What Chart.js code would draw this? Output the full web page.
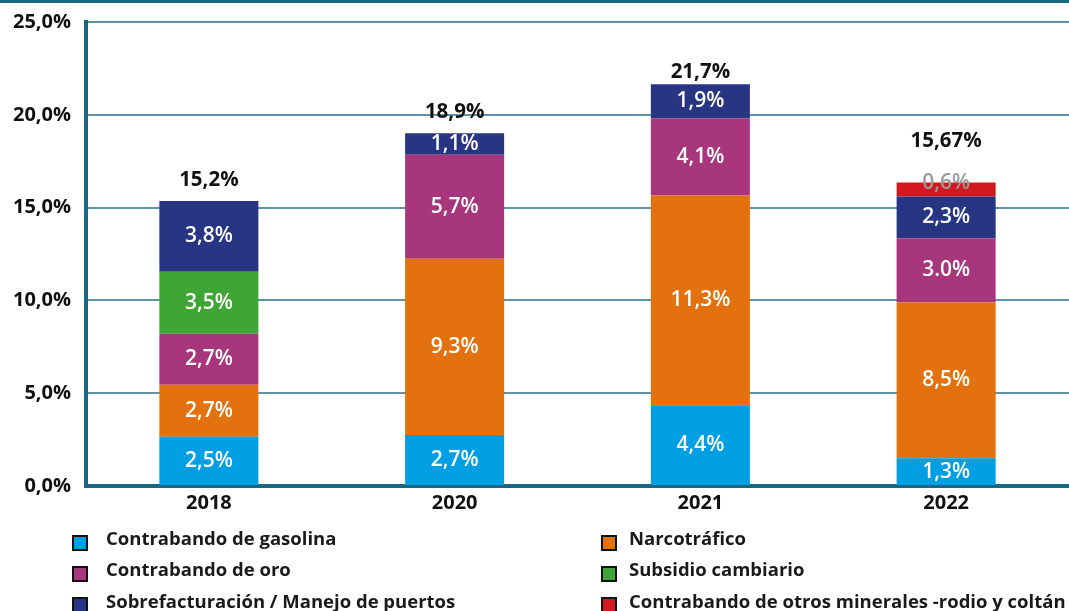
<!DOCTYPE html>
<html>
<head>
<meta charset="utf-8">
<script src="https://cdn.jsdelivr.net/npm/chart.js@4/dist/chart.umd.min.js"></script>
<style>
  html, body { margin: 0; padding: 0; background: #ffffff; }
  #wrap { position: relative; width: 1069px; height: 611px; overflow: hidden; background: #fff; font-family: "Open Sans", "Noto Sans", sans-serif; }
  #topbar { position: absolute; left: 0; top: 0; width: 1069px; height: 3px; background: #1b6680; z-index: 2; }
  #c { position: absolute; left: 0; top: 0; }
  #legend { position: absolute; left: 72px; top: 522px; display: grid; grid-template-columns: 529px auto; grid-auto-rows: 31.3px; }
  .item { display: flex; align-items: center; height: 31.3px; font-size: 18.5px; font-weight: 700; color: #1a1a1a; white-space: nowrap; }
  .sw { width: 16px; height: 16px; box-sizing: border-box; border: 2px solid #111; margin-right: 18px; position: relative; top: 5px; flex: none; }
  .item.c2 .sw { margin-right: 12px; }
</style>
</head>
<body>
<div id="wrap">
  <div id="topbar"></div>
  <canvas id="c" width="1069" height="611"></canvas>
  <div id="legend"></div>
</div>
<script>
// ---- Data ----
const categories = ['2018', '2020', '2021', '2022'];

const seriesNames = [
  'Contrabando de gasolina',
  'Narcotráfico',
  'Contrabando de oro',
  'Subsidio cambiario',
  'Sobrefacturación / Manejo de puertos',
  'Contrabando de otros minerales -rodio y coltán'
];

// bar heights as drawn (%)
const gasolina        = [2.65, 2.75, 4.35, 1.5];
const narcotrafico    = [2.8, 9.5, 11.3, 8.4];
const oro             = [2.75, 5.6, 4.15, 3.45];
const subsidio        = [3.35, null, null, null];
const sobrefacturacion= [3.8, 1.15, 1.85, 2.25];
const otrosMinerales  = [null, null, null, 0.75];

// printed labels
const gasolinaLabels         = ['2,5%', '2,7%', '4,4%', '1,3%'];
const narcotraficoLabels     = ['2,7%', '9,3%', '11,3%', '8,5%'];
const oroLabels              = ['2,7%', '5,7%', '4,1%', '3.0%'];
const subsidioLabels         = ['3,5%', '', '', ''];
const sobrefacturacionLabels = ['3,8%', '1,1%', '1,9%', '2,3%'];
const otrosMineralesLabels   = ['', '', '', '0,6%'];
const totalLabels            = ['15,2%', '18,9%', '21,7%', '15,67%'];

const yTicks = [0, 5, 10, 15, 20, 25];

// ---- Styles ----
const colors = ['#009fe3', '#e3710e', '#a8367d', '#3fa535', '#283583', '#d3191f'];
const labelColors = ['#ffffff', '#ffffff', '#ffffff', '#ffffff', '#ffffff', '#9a9a9a'];
const labelShift = [0, 0, 0, 0, 0, -6];
const totalOffsets = [21, 21, 12, 41];
const AXIS = '#1b6680';
const GRID = '#5f93a5';
const FONT = '"Open Sans", "Noto Sans", sans-serif';

const seriesValues = [gasolina, narcotrafico, oro, subsidio, sobrefacturacion, otrosMinerales];
const seriesLabels = [gasolinaLabels, narcotraficoLabels, oroLabels, subsidioLabels, sobrefacturacionLabels, otrosMineralesLabels];

const datasets = seriesNames.map((name, i) => ({
  label: name,
  data: seriesValues[i],
  backgroundColor: colors[i],
  borderWidth: 0,
  barPercentage: 0.403,
  categoryPercentage: 1.0,
  stack: 's'
}));

const segLabelPlugin = {
  id: 'segLabels',
  afterDatasetsDraw(chart) {
    const ctx = chart.ctx;
    ctx.save();
    ctx.textAlign = 'center';
    ctx.textBaseline = 'middle';
    ctx.font = '600 21px ' + FONT;
    chart.data.datasets.forEach((ds, di) => {
      const meta = chart.getDatasetMeta(di);
      meta.data.forEach((el, i) => {
        const v = ds.data[i];
        const txt = seriesLabels[di][i];
        if (v == null || !txt) return;
        const y = (el.y + el.base) / 2 + labelShift[di];
        ctx.fillStyle = labelColors[di];
        ctx.fillText(txt, el.x, y);
      });
    });
    // totals
    ctx.font = '700 20.5px ' + FONT;
    ctx.fillStyle = '#111111';
    categories.forEach((c, i) => {
      let top = Infinity, x = null;
      chart.data.datasets.forEach((ds, di) => {
        if (ds.data[i] == null) return;
        const el = chart.getDatasetMeta(di).data[i];
        if (el.y < top) { top = el.y; x = el.x; }
      });
      if (x !== null) ctx.fillText(totalLabels[i], x, top - totalOffsets[i]);
    });
    ctx.restore();
  }
};

const chart = new Chart(document.getElementById('c'), {
  type: 'bar',
  data: { labels: categories, datasets },
  options: {
    responsive: false,
    animation: false,
    layout: { padding: { top: 22, right: 0, left: 0, bottom: 0 } },
    plugins: { legend: { display: false }, tooltip: { enabled: false } },
    scales: {
      x: {
        stacked: true,
        grid: { display: false, drawTicks: false },
        border: { display: true, color: AXIS, width: 4 },
        ticks: { color: '#111111', font: { family: FONT, size: 20, weight: '700' }, padding: 5 },
        afterFit(axis) { axis.height = 125; axis.paddingLeft = 0; axis.paddingRight = 0; }
      },
      y: {
        stacked: true,
        min: 0, max: 25,
        afterBuildTicks(axis) { axis.ticks = yTicks.map(v => ({ value: v })); },
        grid: { color: GRID, lineWidth: 2, drawTicks: false },
        border: { display: true, color: AXIS, width: 4 },
        ticks: {
          color: '#111111',
          font: { family: FONT, size: 20, weight: '700' },
          padding: 15,
          callback: v => v.toFixed(1).replace('.', ',') + '%'
        },
        afterFit(axis) { axis.width = 86; axis.paddingTop = 0; axis.paddingBottom = 0; }
      }
    }
  },
  plugins: [segLabelPlugin]
});

// HTML legend (row-wise, two columns)
const legend = document.getElementById('legend');
chart.data.datasets.forEach((ds, i) => {
  const item = document.createElement('div');
  item.className = 'item' + (i % 2 === 1 ? ' c2' : '');
  const sw = document.createElement('span');
  sw.className = 'sw';
  sw.style.background = ds.backgroundColor;
  const t = document.createElement('span');
  t.textContent = ds.label;
  item.appendChild(sw);
  item.appendChild(t);
  legend.appendChild(item);
});
</script>
</body>
</html>
